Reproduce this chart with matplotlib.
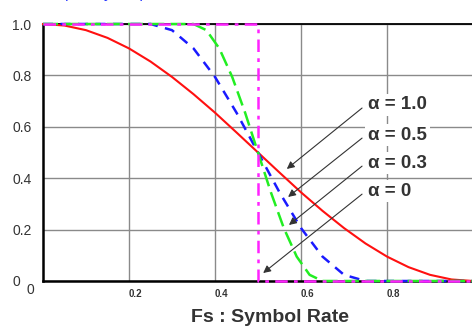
import matplotlib
matplotlib.use("Agg")
import matplotlib.pyplot as plt

plt.rcParams["font.family"] = ["Liberation Sans", "DejaVu Sans"]

# ---- data -----------------------------------------------------------------
# alpha = 1.0 (red, solid)
f_a10 = [0.0, 0.05, 0.10, 0.15, 0.20, 0.25, 0.30, 0.35, 0.40, 0.45, 0.50,
         0.55, 0.60, 0.65, 0.70, 0.75, 0.80, 0.85, 0.90, 0.95, 1.0]
h_a10 = [1.0, 0.994, 0.976, 0.946, 0.905, 0.854, 0.794, 0.727, 0.655, 0.578, 0.50,
         0.422, 0.345, 0.273, 0.206, 0.146, 0.095, 0.054, 0.024, 0.006, 0.0]
# alpha = 0.5 (blue, dashed)
f_a05 = [0.0, 0.25, 0.30, 0.35, 0.40, 0.45, 0.50, 0.55, 0.60, 0.65, 0.70, 0.75, 1.0]
h_a05 = [1.0, 1.0, 0.976, 0.905, 0.794, 0.655, 0.50, 0.345, 0.206, 0.095, 0.024, 0.0, 0.0]
# alpha = 0.3 (green, dashed)
f_a03 = [0.0, 0.35, 0.38, 0.41, 0.44, 0.47, 0.50, 0.53, 0.56, 0.59, 0.62, 0.65, 1.0]
h_a03 = [1.0, 1.0, 0.976, 0.905, 0.794, 0.655, 0.50, 0.345, 0.206, 0.095, 0.024, 0.0, 0.0]
# alpha = 0 (magenta, dash-dot)
f_a00 = [0.0, 0.5, 0.5, 1.0]
h_a00 = [1.0, 1.0, 0.0, 0.0]

alpha_labels = ["\u03b1 = 1.0", "\u03b1 = 0.5", "\u03b1 = 0.3", "\u03b1 = 0"]
# arrow heads (where each label points on its curve)
head_f = [0.567, 0.570, 0.572, 0.512]
head_h = [0.436, 0.327, 0.218, 0.031]

yticks = [0.0, 0.2, 0.4, 0.6, 0.8, 1.0]
ytick_labels = ["0", "0.2", "0.4", "0.6", "0.8", "1.0"]
xticks = [0.2, 0.4, 0.6, 0.8]
xtick_labels = ["0.2", "0.4", "0.6", "0.8"]

# ---- figure ---------------------------------------------------------------
W, H = 472, 327
fig = plt.figure(figsize=(W / 100, H / 100), dpi=100)
ax = fig.add_axes([43 / W, 46 / H, 430 / W, 257 / H])
ax.set_xlim(0, 1)
ax.set_ylim(0, 1)

ax.plot(f_a10, h_a10, color="#ff1010", lw=1.5, zorder=3, clip_on=False)
ax.plot(f_a05, h_a05, color="#1a1aff", lw=1.8, ls=(0, (4, 3)), zorder=3, clip_on=False)
ax.plot(f_a03, h_a03, color="#22ee22", lw=1.8, ls=(0, (6, 2.5)), zorder=3, clip_on=False)
ax.plot(f_a00, h_a00, color="#ff22ff", lw=1.8, ls=(0, (5, 2.5, 1.5, 2.5)), zorder=4,
        clip_on=False)

ax.set_xticks(xticks)
ax.set_xticklabels(xtick_labels, fontsize=7, fontweight="bold", color="#333333",
                   ha="left")
ax.set_yticks(yticks)
ax.set_yticklabels(ytick_labels, fontsize=10, color="#333333", ha="left")
ax.tick_params(axis="x", length=0, pad=6)
ax.tick_params(axis="y", length=0, pad=22)
ax.grid(color="#8a8a8a", lw=1.0)
ax.set_axisbelow(True)
for side in ("left", "bottom"):
    ax.spines[side].set_linewidth(1.8)
ax.spines["top"].set_linewidth(1.3)
ax.spines["right"].set_linewidth(1.3)

ax.text(-0.03, -0.035, "0", fontsize=10, color="#333333", ha="center", va="center",
        clip_on=False)

# labels with arrows
label_y = [0.685, 0.568, 0.459, 0.350]
for lab, hf, hh, ly in zip(alpha_labels, head_f, head_h, label_y):
    ax.annotate("", xy=(hf, hh), xytext=(0.742, ly - 0.012),
                arrowprops=dict(arrowstyle="-|>", color="#333333", lw=0.8,
                                mutation_scale=11, shrinkA=0, shrinkB=0),
                zorder=5)
    ax.text(0.756, ly, lab, fontsize=13.5, fontweight="bold", color="#333333",
            ha="left", va="center", zorder=6,
            bbox=dict(fc="white", ec="none", pad=2))

fig.text(270 / W, 1 - 318 / H, "Fs : Symbol Rate", fontsize=14, fontweight="bold",
         color="#333333", ha="center", va="center")
# title sits above the visible area in the original; only its bottom edge shows
fig.text(35 / W, 1 + 2 / H, "Frequency response of raised cosine filters",
         fontsize=11.7, color="#2233ff", ha="left", va="baseline")

fig.savefig("out.png", dpi=100)
